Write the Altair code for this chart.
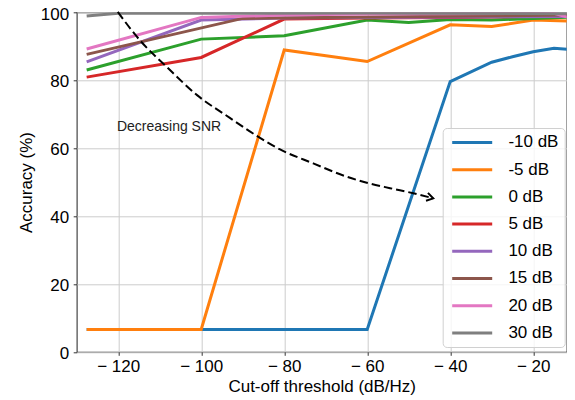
import altair as alt
import pandas as pd

FONT = "Liberation Sans"

LABELS = ["-10 dB", "-5 dB", "0 dB", "5 dB", "10 dB", "15 dB", "20 dB", "30 dB"]
COLORS = ["#1f77b4", "#ff7f0e", "#2ca02c", "#d62728", "#9467bd", "#8c564b", "#e377c2", "#7f7f7f"]

X_M10 = [-127.6, -100, -60, -40, -30, -25, -20, -15, -10]
Y_M10 = [6.6, 6.6, 6.6, 79.6, 85.3, 86.9, 88.4, 89.4, 88.9]
X_M5 = [-127.6, -100, -80, -60, -40, -30, -20, -10]
Y_M5 = [6.6, 6.6, 88.9, 85.5, 96.3, 95.8, 97.7, 97.4]
X_0 = [-127.6, -100, -80, -60, -50, -40, -30, -20, -10]
Y_0 = [83.0, 92.1, 93.1, 97.7, 97.0, 97.9, 97.7, 98.2, 98.6]
X_5 = [-127.6, -100, -80, -60, -40, -20, -10]
Y_5 = [80.9, 86.7, 98.0, 98.3, 98.5, 98.8, 99.0]
X_10 = [-127.6, -100, -80, -60, -40, -10]
Y_10 = [85.4, 97.7, 98.3, 98.5, 98.6, 98.8]
X_15 = [-127.6, -90, -60, -40, -10]
Y_15 = [87.6, 98.2, 98.6, 98.8, 99.2]
X_20 = [-127.6, -100, -80, -60, -40, -15, -10]
Y_20 = [89.2, 98.5, 99.2, 99.5, 99.6, 99.7, 98.0]
X_30 = [-127.6, -120, -100, -60, -10]
Y_30 = [98.9, 99.7, 99.7, 99.8, 99.6]

XS = [X_M10, X_M5, X_0, X_5, X_10, X_15, X_20, X_30]
YS = [Y_M10, Y_M5, Y_0, Y_5, Y_10, Y_15, Y_20, Y_30]

X_TICKS = [-120, -100, -80, -60, -40, -20]
Y_TICKS = [0, 20, 40, 60, 80, 100]
X_DOMAIN = [-130, -11.93]
Y_DOMAIN = [0, 100]

# annotation: curved dashed arrow and text
ARROW_X = [-120.1, -114.8, -108.3, -101.0, -93.1, -86.6, -81.0, -73.0, -65.0, -60.1, -54.5, -48.9, -44.1]
ARROW_Y = [100.1, 91.8, 83.9, 75.6, 68.9, 63.6, 59.6, 55.5, 51.6, 49.8, 48.2, 46.7, 45.2]
ARROW_TIP = (-44.1, 45.2)
ARROW_ANGLE = 14
NOTE_TEXT = "Decreasing SNR"
NOTE_POS = (-120.3, 66.2)

rows = []
for lab, xs, ys in zip(LABELS, XS, YS):
    for x, y in zip(xs, ys):
        rows.append({"series": lab, "x": x, "y": y})
df = pd.DataFrame(rows)

xscale = alt.Scale(domain=X_DOMAIN, nice=False, zero=False)
yscale = alt.Scale(domain=Y_DOMAIN, nice=False)

xaxis = alt.Axis(
    values=X_TICKS,
    labelExpr="datum.value < 0 ? '\u2212 ' + abs(datum.value) : datum.label",
    title="Cut-off threshold (dB/Hz)",
    grid=True, gridColor="#cccccc", gridWidth=1,
    domain=False, tickColor="#333333", tickSize=3.5, tickWidth=1,
    labelPadding=3.5, labelFontSize=17, labelFont=FONT, labelColor="black",
    titleFont=FONT, titleFontSize=17, titleFontWeight="normal", titleColor="black",
    titleBaseline="alphabetic", titleY=39.9,
)
yaxis = alt.Axis(
    values=Y_TICKS,
    title="Accuracy (%)",
    grid=True, gridColor="#cccccc", gridWidth=1,
    domain=False, tickColor="#333333", tickSize=3.5, tickWidth=1,
    labelPadding=4.5, labelFontSize=17, labelFont=FONT, labelColor="black",
    labelOffset=1.8,
    titleFont=FONT, titleFontSize=17, titleFontWeight="normal", titleColor="black",
    titleBaseline="alphabetic", titleX=-45.5,
)

lines = alt.Chart(df).mark_line(strokeWidth=3, clip=True).encode(
    x=alt.X("x:Q", scale=xscale, axis=xaxis),
    y=alt.Y("y:Q", scale=yscale, axis=yaxis),
    color=alt.Color(
        "series:N",
        scale=alt.Scale(domain=LABELS, range=COLORS),
        sort=LABELS,
        legend=alt.Legend(
            title=None, orient="none", legendX=366, legendY=115.7,
            symbolType="M-1,0L7,0", symbolSize=100, symbolStrokeWidth=3,
            labelFont=FONT, labelFontSize=17, labelColor="black",
            labelExpr="datum.label + '\u00a0\u00a0'",
            labelOffset=42.7, rowPadding=9.2, padding=6,
            fillColor="rgba(255,255,255,0.8)", strokeColor="#d0d0d0",
            cornerRadius=4,
        ),
    ),
)

arrow_df = pd.DataFrame({"x": ARROW_X, "y": ARROW_Y, "i": list(range(len(ARROW_X)))})
curve = alt.Chart(arrow_df).mark_line(
    color="black", strokeWidth=2, strokeDash=[8.5, 4], interpolate="monotone"
).encode(
    x=alt.X("x:Q", scale=xscale),
    y=alt.Y("y:Q", scale=yscale),
    order="i:Q",
)

tip_df = pd.DataFrame({"x": [ARROW_TIP[0]], "y": [ARROW_TIP[1]]})
tip = alt.Chart(tip_df).mark_point(
    shape="M-1.6,-1L0,0L-1.6,1", size=64, filled=False, color="black",
    strokeWidth=2, angle=ARROW_ANGLE, opacity=1,
).encode(
    x=alt.X("x:Q", scale=xscale),
    y=alt.Y("y:Q", scale=yscale),
)

note_df = pd.DataFrame({"x": [NOTE_POS[0]], "y": [NOTE_POS[1]], "t": [NOTE_TEXT]})
note = alt.Chart(note_df).mark_text(
    align="left", baseline="middle", font=FONT, fontSize=14, color="#222222"
).encode(
    x=alt.X("x:Q", scale=xscale),
    y=alt.Y("y:Q", scale=yscale),
    text="t:N",
)

chart = alt.layer(lines, curve, tip, note).properties(
    width=490,
    height=339.5,
    autosize=alt.AutoSizeParams(type="none"),
    padding={"left": 68.7, "top": 4.3, "right": 0.3, "bottom": 45},
).configure_view(
    stroke="#333333", strokeWidth=1.1
)

chart.save("out.html", embed_options={"renderer": "svg", "actions": False})
